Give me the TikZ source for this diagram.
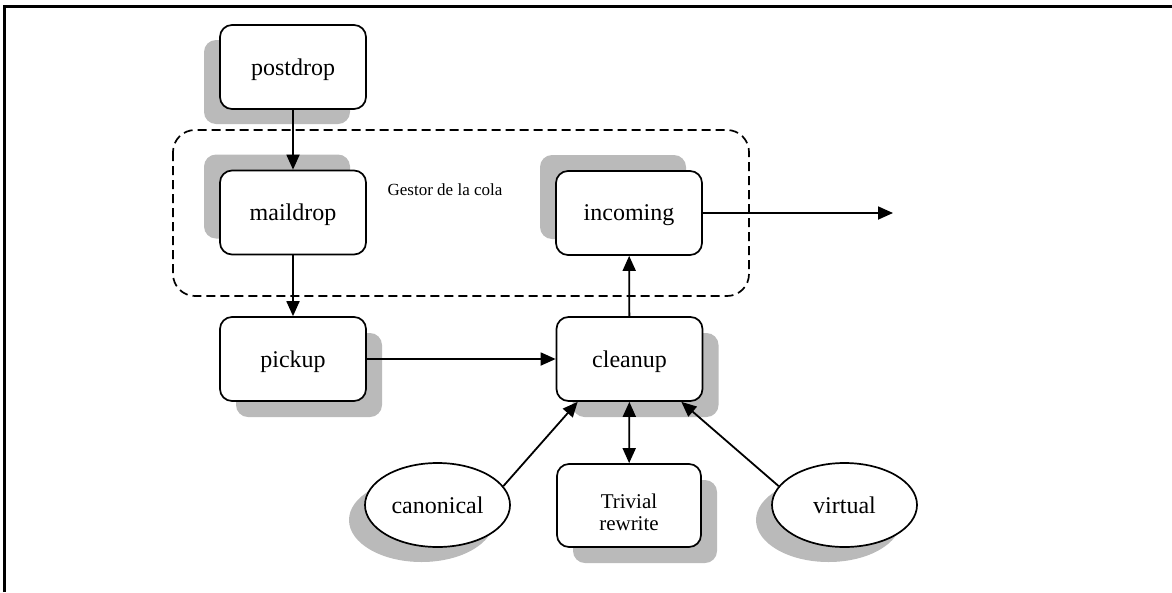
\documentclass[tikz,border=0pt]{standalone}
\usepackage{fontspec}
\setmainfont{Liberation Serif}
\usetikzlibrary{arrows.meta,shapes.geometric,shadows}
\definecolor{shadowgray}{RGB}{186,186,186}
\tikzset{
  box/.style={draw, line width=1.7pt, fill=white, rounded corners=12pt,
    minimum width=146pt, minimum height=84pt, inner sep=0pt, text depth=0pt,
    font=\fontsize{24}{26}\selectfont},
  oval/.style={draw, line width=1.7pt, fill=white, ellipse,
    minimum width=145pt, minimum height=84pt, inner sep=0pt, text depth=0pt,
    font=\fontsize{24}{26}\selectfont},
  shLD/.style={drop shadow={shadow xshift=-16pt, shadow yshift=-15pt, fill=shadowgray, opacity=1}},
  shLU/.style={drop shadow={shadow xshift=-16pt, shadow yshift=16pt, fill=shadowgray, opacity=1}},
  shRD/.style={drop shadow={shadow xshift=16pt, shadow yshift=-16pt, fill=shadowgray, opacity=1}},
  conn/.style={line width=1.8pt, -{Triangle[length=15pt,width=13pt]}},
  biconn/.style={line width=1.8pt, {Triangle[length=15pt,width=13pt]}-{Triangle[length=15pt,width=13pt]}},
}
\begin{document}
\begin{tikzpicture}[x=1pt,y=-1pt]
\useasboundingbox (0,0) rectangle (1172,592);
\draw[line width=2.2pt] (4.5,592) -- (4.5,6.5) -- (1172,6.5);
\draw[line width=1.7pt, dash pattern=on 9pt off 5pt, rounded corners=22pt] (173,130) rectangle (749,296);
\node[font=\fontsize{17}{20}\selectfont] (gestor) at (445,190) {Gestor de la cola};
\node[box, shLD] (postdrop) at (293,67) {postdrop};
\node[box, shLU] (maildrop) at (293,212.5) {maildrop};
\node[box, shLU] (incoming) at (629,213) {incoming};
\node[box, shRD] (pickup) at (293,359) {pickup};
\node[box, shRD] (cleanup) at (629.5,359) {cleanup};
\node[box, shRD, minimum width=144pt, minimum height=83pt, text depth=,
  font=\fontsize{21}{22}\selectfont] (trivial) at (629,505.5)
  {\raisebox{-10pt}[\height][\depth]{\begin{tabular}{@{}c@{}}Trivial\\rewrite\end{tabular}}};
\node[oval, shLD] (canonical) at (437.5,505) {canonical};
\node[oval, shLD] (virtual) at (844.5,505) {virtual};
\coordinate (out) at (893,213);
\draw[conn] (postdrop) -- (maildrop);
\draw[conn] (maildrop) -- (pickup);
\draw[conn] (pickup) -- (cleanup);
\draw[conn] (cleanup) -- (incoming);
\draw[conn] (incoming) -- (out);
\draw[biconn] (cleanup) -- (trivial);
\draw[conn] (canonical.16) -- ([xshift=22pt]cleanup.south west);
\draw[conn] (virtual.164) -- ([xshift=-22pt]cleanup.south east);
\end{tikzpicture}
\end{document}
